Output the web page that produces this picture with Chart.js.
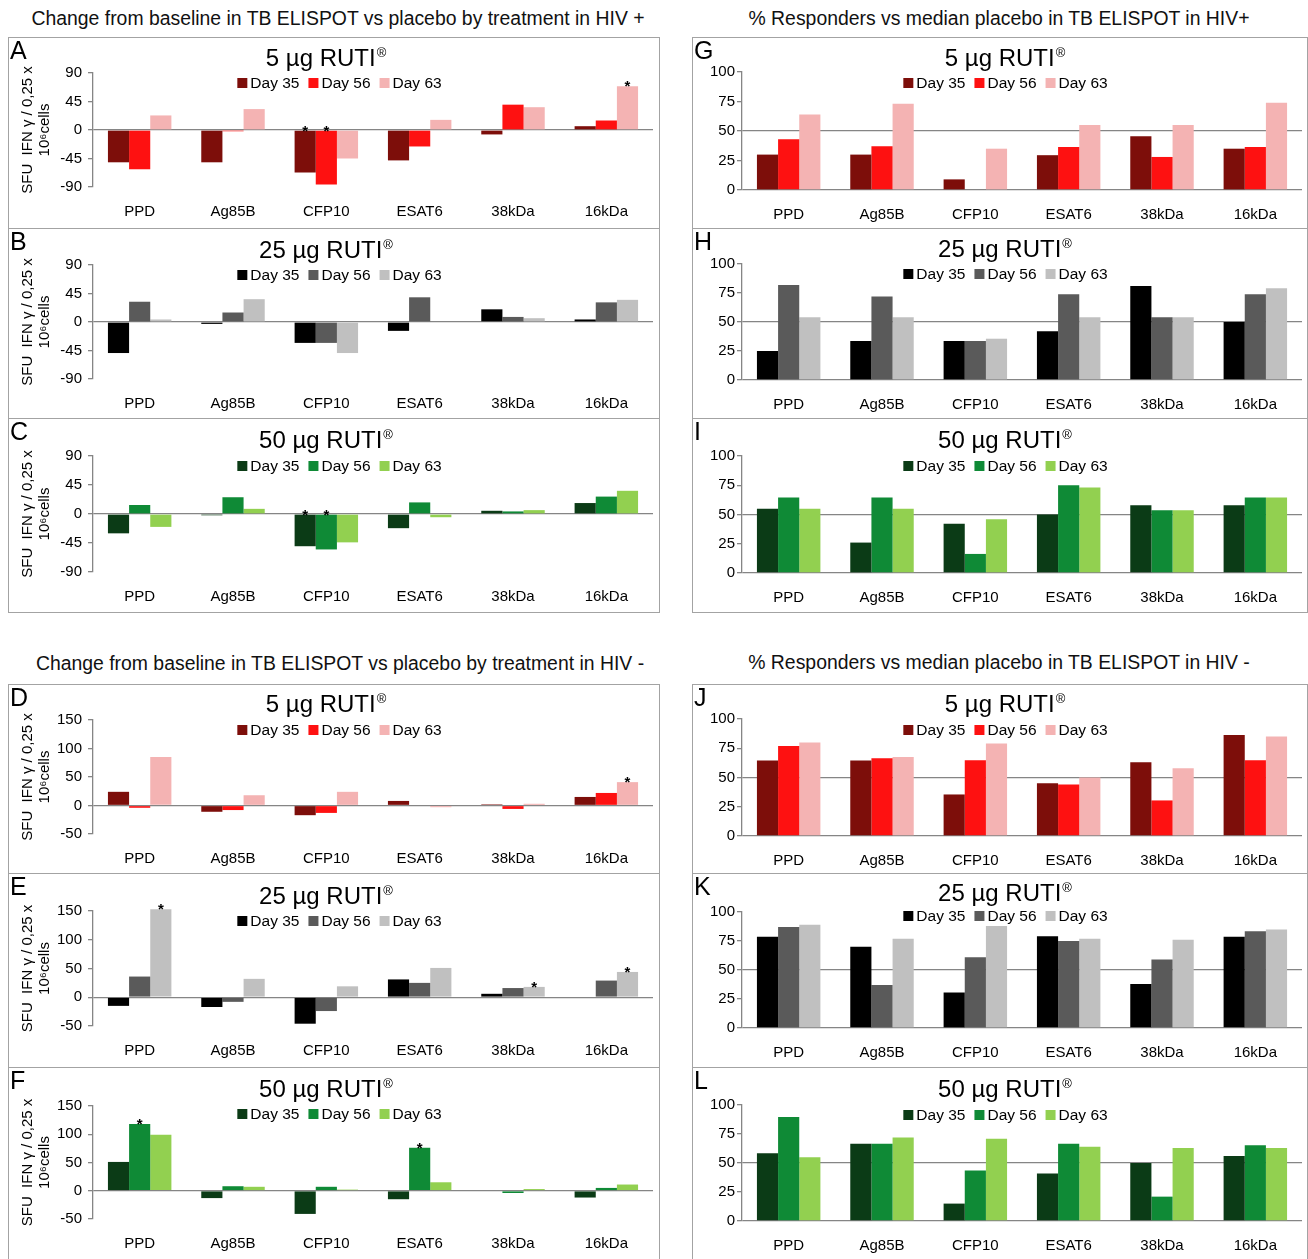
<!DOCTYPE html>
<html>
<head>
<meta charset="utf-8">
<script src="https://cdn.jsdelivr.net/npm/chart.js@4.4.0/dist/chart.umd.min.js"></script>
<style>
  body { margin: 0; background: #fff; font-family: "Liberation Sans", Arial, sans-serif; }
  #page { position: relative; width: 1308px; height: 1259px; overflow: hidden; }
  .frame { position: absolute; border: 1px solid #a3a3a3; box-sizing: border-box; }
  .head { position: absolute; font-size: 19.4px; color: #111; white-space: nowrap; transform: translateX(-50%); }
  canvas { position: absolute; }
</style>
</head>
<body>
<div id="page">
  <div class="head" style="left:338px;top:7px">Change from baseline in TB ELISPOT vs placebo by treatment in HIV +</div>
  <div class="head" style="left:999px;top:7px">% Responders vs median placebo in TB ELISPOT in HIV+</div>
  <div class="head" style="left:340px;top:652px">Change from baseline in TB ELISPOT vs placebo by treatment in HIV -</div>
  <div class="head" style="left:999px;top:651px">% Responders vs median placebo in TB ELISPOT in HIV -</div>
</div>
<script>
const FAM = '"Liberation Sans", Arial, sans-serif';
Chart.defaults.font.family = FAM;

// categories / series names
const antigens = ['PPD', 'Ag85B', 'CFP10', 'ESAT6', '38kDa', '16kDa'];
const days = ['Day 35', 'Day 56', 'Day 63'];

// y tick labels
const ticksChangePos = [-90, -45, 0, 45, 90];
const ticksChangeNeg = [-50, 0, 50, 100, 150];
const ticksPct = [0, 25, 50, 75, 100];

// A: change from baseline, HIV+, 5 µg
const a35 = [-51, -51, -67, -48, -7, 6];
const a56 = [-62, -2, -86, -26, 40, 15];
const a63 = [23, 33, -45, 16, 36, 69];
// B: HIV+, 25 µg
const b35 = [-49, -3, -33, -14, 20, 4];
const b56 = [32, 15, -33, 39, 8, 31];
const b63 = [4, 36, -49, 0, 6, 35];
// C: HIV+, 50 µg
const c35 = [-30, -2, -50, -22, 5, 17];
const c56 = [14, 26, -55, 18, 4, 27];
const c63 = [-20, 8, -44, -5, 6, 36];
// D: HIV-, 5 µg
const d35 = [24, -11, -17, 8, 2, 15];
const d56 = [-4, -8, -13, 0, -6, 22];
const d63 = [85, 18, 24, -3, 3, 41];
// E: HIV-, 25 µg
const e35 = [-15, -17, -46, 31, 6, 0];
const e56 = [36, -8, -24, 25, 16, 29];
const e63 = [153, 32, 19, 51, 18, 44];
// F: HIV-, 50 µg
const f35 = [51, -13, -41, -15, 0, -12];
const f56 = [118, 8, 7, 76, -4, 5];
const f63 = [99, 7, 2, 15, 3, 11];
// G: % responders, HIV+, 5 µg
const g35 = [30, 30, 9, 29.5, 45.6, 35];
const g56 = [43, 37, 0, 36.5, 28, 36.5];
const g63 = [64, 73, 35, 55, 55, 74];
// H: HIV+, 25 µg
const h35 = [25, 33.6, 33.6, 42, 81, 50];
const h56 = [82, 72, 33.6, 74, 54, 74];
const h63 = [54, 54, 35.6, 54, 54, 79];
// I: HIV+, 50 µg
const i35 = [55, 26, 42, 50, 58, 58];
const i56 = [64.5, 64.5, 16.3, 75, 53.6, 64.5];
const i63 = [55, 55, 46, 73, 53.6, 64.5];
// J: HIV-, 5 µg
const j35 = [64.5, 64.5, 35.5, 45, 63, 86.4];
const j56 = [77, 66.5, 64.7, 44, 30.4, 64.7];
const j63 = [80, 67.6, 79, 50, 58, 85];
// K: HIV-, 25 µg
const k35 = [78.6, 70, 30.6, 79, 38, 78.6];
const k56 = [87, 37, 61, 75, 59, 83.5];
const k63 = [89, 77, 88, 77, 76, 85];
// L: HIV-, 50 µg
const l35 = [58.5, 66.5, 15, 41, 50, 56];
const l56 = [89.6, 66.5, 43.5, 66.5, 21, 65.4];
const l63 = [55, 72, 71, 64, 63, 63];

// significance stars: [day index, antigen index]
const starsA = [[0, 2], [1, 2], [2, 5]];
const starsC = [[0, 2], [1, 2]];
const starsD = [[2, 5]];
const starsE = [[2, 0], [2, 4], [2, 5]];
const starsF = [[1, 0], [1, 3]];

const reds = ['#7d0e0a', '#fe1111', '#f4b3b3'];
const greys = ['#000000', '#5a5a5a', '#c0c0c0'];
const greens = ['#0b3b16', '#0f8a36', '#92d050'];

// panel boxes (page coords) and plot-area top/bottom
const panels = [
  { L: 'A', x: 8, y: 37, w: 651, h: 191, top: 73, bot: 187, tY: 59, lY: 83, dose: '5', s: [a35, a56, a63], c: reds, t: ticksChangePos, st: starsA },
  { L: 'B', x: 8, y: 228, w: 651, h: 190, top: 265, bot: 379, tY: 251, lY: 275, dose: '25', s: [b35, b56, b63], c: greys, t: ticksChangePos, st: [] },
  { L: 'C', x: 8, y: 418, w: 651, h: 194, top: 456, bot: 572, tY: 441, lY: 466, dose: '50', s: [c35, c56, c63], c: greens, t: ticksChangePos, st: starsC },
  { L: 'D', x: 8, y: 684, w: 651, h: 189, top: 720, bot: 834, tY: 705, lY: 730, dose: '5', s: [d35, d56, d63], c: reds, t: ticksChangeNeg, st: starsD },
  { L: 'E', x: 8, y: 873, w: 651, h: 194, top: 911, bot: 1026, tY: 897, lY: 921, dose: '25', s: [e35, e56, e63], c: greys, t: ticksChangeNeg, st: starsE },
  { L: 'F', x: 8, y: 1067, w: 651, h: 193, top: 1106, bot: 1219, tY: 1090, lY: 1114, dose: '50', s: [f35, f56, f63], c: greens, t: ticksChangeNeg, st: starsF },
  { L: 'G', x: 692, y: 37, w: 615, h: 191, top: 72, bot: 190, tY: 59, lY: 83, dose: '5', s: [g35, g56, g63], c: reds, t: ticksPct, st: [] },
  { L: 'H', x: 692, y: 228, w: 615, h: 190, top: 264, bot: 380, tY: 250, lY: 274, dose: '25', s: [h35, h56, h63], c: greys, t: ticksPct, st: [] },
  { L: 'I', x: 692, y: 418, w: 615, h: 194, top: 456, bot: 573, tY: 441, lY: 466, dose: '50', s: [i35, i56, i63], c: greens, t: ticksPct, st: [] },
  { L: 'J', x: 692, y: 684, w: 615, h: 189, top: 719, bot: 836, tY: 705, lY: 730, dose: '5', s: [j35, j56, j63], c: reds, t: ticksPct, st: [] },
  { L: 'K', x: 692, y: 873, w: 615, h: 194, top: 912, bot: 1028, tY: 894, lY: 916, dose: '25', s: [k35, k56, k63], c: greys, t: ticksPct, st: [] },
  { L: 'L', x: 692, y: 1067, w: 615, h: 193, top: 1105, bot: 1221, tY: 1090, lY: 1115, dose: '50', s: [l35, l56, l63], c: greens, t: ticksPct, st: [] },
];

// letter, title with small ®, in-plot legend and stars
const decor = {
  id: 'decor',
  afterDatasetsDraw(chart, args, o) {
    const ctx = chart.ctx;
    ctx.save();
    ctx.fillStyle = '#000';
    ctx.textAlign = 'left';
    ctx.textBaseline = 'alphabetic';
    ctx.font = '25px ' + FAM;
    ctx.fillText(o.letter, 2, 22);

    // title
    ctx.textBaseline = 'middle';
    ctx.font = '24px ' + FAM;
    const mainW = ctx.measureText(o.title).width;
    ctx.font = '13px ' + FAM;
    const supW = ctx.measureText('®').width;
    const x0 = o.tx - (mainW + supW) / 2;
    ctx.font = '24px ' + FAM;
    ctx.fillText(o.title, x0, o.tY);
    ctx.font = '13px ' + FAM;
    ctx.fillText('®', x0 + mainW + 1, o.tY - 6);

    // legend
    ctx.font = '15.5px ' + FAM;
    const ds = chart.data.datasets;
    const box = 10, gap = 3, sep = 9;
    const widths = ds.map(d => ctx.measureText(d.label).width);
    const total = widths.reduce((a, b) => a + b + box + gap, 0) + sep * (ds.length - 1);
    let x = o.lx - total / 2;
    ds.forEach((d, i) => {
      ctx.fillStyle = d.backgroundColor;
      ctx.fillRect(x, o.lY - box / 2, box, box);
      x += box + gap;
      ctx.fillStyle = '#000';
      ctx.fillText(d.label, x, o.lY + 1);
      x += widths[i] + sep;
    });

    // stars
    ctx.font = 'bold 15px ' + FAM;
    ctx.textAlign = 'center';
    ctx.textBaseline = 'alphabetic';
    o.stars.forEach(([d, i]) => {
      const el = chart.getDatasetMeta(d).data[i];
      const topY = Math.min(el.y, el.base);
      ctx.fillText('*', el.x, topY + 5);
    });
    ctx.restore();
  }
};

const page = document.getElementById('page');

panels.forEach(p => {
  const fr = document.createElement('div');
  fr.className = 'frame';
  fr.style.left = p.x + 'px';
  fr.style.top = p.y + 'px';
  fr.style.width = (p.w + 1) + 'px';
  fr.style.height = (p.h + 1) + 'px';
  page.appendChild(fr);

  const cv = document.createElement('canvas');
  cv.width = p.w;
  cv.height = p.h;
  cv.style.left = p.x + 'px';
  cv.style.top = p.y + 'px';
  page.appendChild(cv);

  const leftCol = p.x < 600;
  const axisLeft = (leftCol ? 93 : 742) - p.x;
  const axisRight = (leftCol ? 653 : 1302) - p.x;
  const refLines = leftCol ? [0] : [0, 50];
  const t = p.t;

  new Chart(cv, {
    type: 'bar',
    data: {
      labels: antigens,
      datasets: p.s.map((vals, i) => ({
        label: days[i],
        data: vals,
        backgroundColor: p.c[i],
        borderWidth: 0,
        categoryPercentage: 0.68,
        barPercentage: 1,
        clip: false
      }))
    },
    options: {
      responsive: false,
      animation: false,
      layout: { padding: { top: p.top - p.y, right: p.w - axisRight, left: 0, bottom: 0 } },
      plugins: {
        legend: { display: false },
        tooltip: { enabled: false },
        decor: {
          letter: p.L,
          title: p.dose + ' µg RUTI',
          tx: p.w / 2 + (leftCol ? -8 : 5),
          lx: p.w / 2 + (leftCol ? 6 : 6),
          tY: p.tY - p.y,
          lY: p.lY - p.y,
          stars: p.st
        }
      },
      scales: {
        x: {
          grid: { display: false, drawTicks: false },
          border: { display: false },
          ticks: { color: '#000', font: { size: 15 }, padding: 16, maxRotation: 0, autoSkip: false },
          afterFit: s => { s.height = p.h - (p.bot - p.y); }
        },
        y: {
          min: t[0],
          max: t[t.length - 1],
          ticks: { stepSize: t[1] - t[0], color: '#000', font: { size: 15 }, padding: leftCol ? 6 : 2 },
          grid: {
            color: c => refLines.includes(c.tick.value) ? '#858585' : 'rgba(0,0,0,0)',
            tickColor: '#858585',
            tickLength: 5,
            lineWidth: 1.3
          },
          border: { color: '#858585', width: 1.3 },
          title: leftCol ? {
            display: true,
            text: ['SFU  IFN γ / 0,25 x', '10⁶cells'],
            color: '#000',
            font: { size: 15, lineHeight: 1.15 },
            padding: { top: 11, bottom: 0 }
          } : { display: false },
          afterFit: s => { s.width = axisLeft; }
        }
      }
    },
    plugins: [decor]
  });
});
</script>
</body>
</html>
